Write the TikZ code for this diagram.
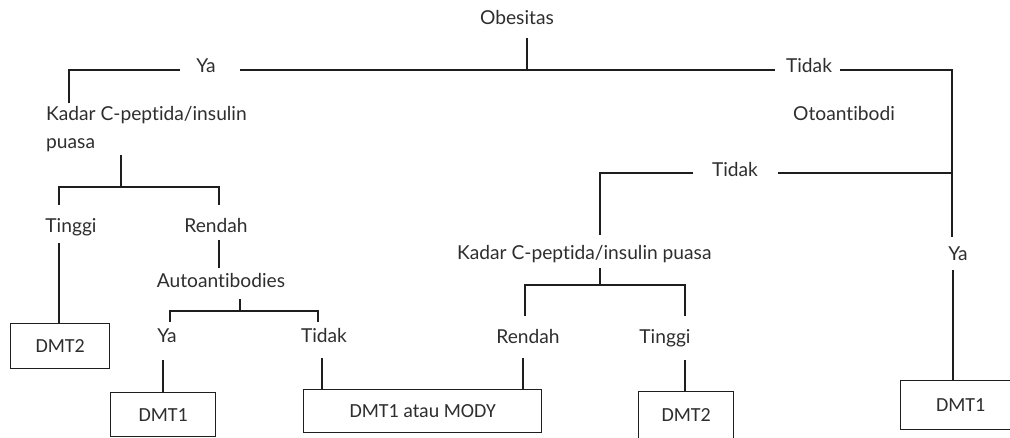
\documentclass[tikz,border=0pt]{standalone}
\usepackage{fontspec}
\setmainfont{Lato}[Ligatures={NoCommon}]
\newfontfamily\boxfont{Carlito}
\definecolor{ink}{HTML}{2E2E2E}
\definecolor{rule}{HTML}{1E1E1E}
\begin{document}
\begin{tikzpicture}[x=1pt,y=-1pt,
  lbl/.style={inner sep=0pt, anchor=base, text=ink, font=\fontsize{19.2}{28}\selectfont},
  result/.style={draw=rule, line width=1.4pt, inner sep=0pt, text=ink,
    font=\boxfont\fontsize{20}{22}\selectfont, anchor=north west},
  link/.style={draw=rule, line width=1.5pt}]
\clip (0,0) rectangle (1010,437);

% question and answer labels
\node[lbl] (obes) at (517,24) {Obesitas};
\node[lbl] (yaTop) at (206,72) {Ya};
\node[lbl] (tdTop) at (809,72) {Tidak};
% a multi-line node sits on the baseline of its last line
\node[lbl, anchor=base west, align=left] (kadarL) at (46,148) {Kadar C-peptida/insulin\\puasa};
\node[lbl] (oto) at (844,120) {Otoantibodi};
\node[lbl] (tdMid) at (735,176) {Tidak};
\node[lbl] (tinggiL) at (71,232) {Tinggi};
\node[lbl] (rendahL) at (216,232) {Rendah};
\node[lbl, anchor=base west] (kadarR) at (457,259) {Kadar C-peptida/insulin puasa};
\node[lbl] (yaR) at (958,260) {Ya};
\node[lbl] (auto) at (221,287) {Autoantibodies};
\node[lbl] (yaL) at (167,342) {Ya};
\node[lbl] (tdL) at (324,342) {Tidak};
\node[lbl] (rendahR) at (528,343) {Rendah};
\node[lbl] (tinggiR) at (665,343) {Tinggi};

% outcome boxes
\node[result, minimum width=99pt, minimum height=45pt] (dmt2L) at (10,323) {DMT2};
\node[result, minimum width=105pt, minimum height=44pt] (dmt1L) at (110,392) {DMT1};
\node[result, minimum width=238pt, minimum height=43pt] (mody) at (303,389) {DMT1 atau MODY};
\node[result, minimum width=95pt, minimum height=47pt] (dmt2R) at (638,391) {DMT2};
\node[result, minimum width=120pt, minimum height=49pt] (dmt1R) at (900,380) {DMT1};

% free ends of the connectors
\coordinate (o1) at (527,38);  \coordinate (o2) at (527,70);
\coordinate (k1) at (69,103);  \coordinate (k2) at (69,70);  \coordinate (k3) at (180,70);
\coordinate (m1) at (240,70);  \coordinate (m2) at (775,70);
\coordinate (r1) at (840,70);  \coordinate (r2) at (952,70);  \coordinate (r3) at (952,237);
\coordinate (y1) at (953,270);
\coordinate (t1) at (778,173); \coordinate (t2) at (952,173);
\coordinate (t3) at (693,173); \coordinate (t4) at (600,173); \coordinate (t5) at (600,235);
\coordinate (c1) at (600,268); \coordinate (c2) at (600,285);
\coordinate (c3) at (525,316); \coordinate (c4) at (525,285);
\coordinate (c5) at (685,285); \coordinate (c6) at (685,316);
\coordinate (rr1) at (523,358); \coordinate (tr1) at (685,360);
\coordinate (p1) at (121,155); \coordinate (p2) at (121,187);
\coordinate (p3) at (59,205);  \coordinate (p4) at (59,187);
\coordinate (p5) at (219,187); \coordinate (p6) at (219,205);
\coordinate (g1) at (59,243);
\coordinate (d1) at (219,240); \coordinate (d2) at (219,268);
\coordinate (a1) at (240,299); \coordinate (a2) at (240,311);
\coordinate (a3) at (170,322); \coordinate (a4) at (170,311);
\coordinate (a5) at (318,311); \coordinate (a6) at (318,322);
\coordinate (l1) at (163,360); \coordinate (n1) at (322,358);

% connectors
\draw[link] (o1) -- (o2);
\draw[link] (k1) -- (k2) -- (k3);
\draw[link] (m1) -- (m2);
\draw[link] (r1) -- (r2) -- (r3);
\draw[link] (y1) -- (y1 |- dmt1R.north);
\draw[link] (t1) -- (t2);
\draw[link] (t3) -- (t4) -- (t5);
\draw[link] (c1) -- (c2);
\draw[link] (c3) -- (c4) -- (c5) -- (c6);
\draw[link] (rr1) -- (rr1 |- mody.north);
\draw[link] (tr1) -- (tr1 |- dmt2R.north);
\draw[link] (p1) -- (p2);
\draw[link] (p3) -- (p4) -- (p5) -- (p6);
\draw[link] (g1) -- (g1 |- dmt2L.north);
\draw[link] (d1) -- (d2);
\draw[link] (a1) -- (a2);
\draw[link] (a3) -- (a4) -- (a5) -- (a6);
\draw[link] (l1) -- (l1 |- dmt1L.north);
\draw[link] (n1) -- (n1 |- mody.north);
\end{tikzpicture}
\end{document}
